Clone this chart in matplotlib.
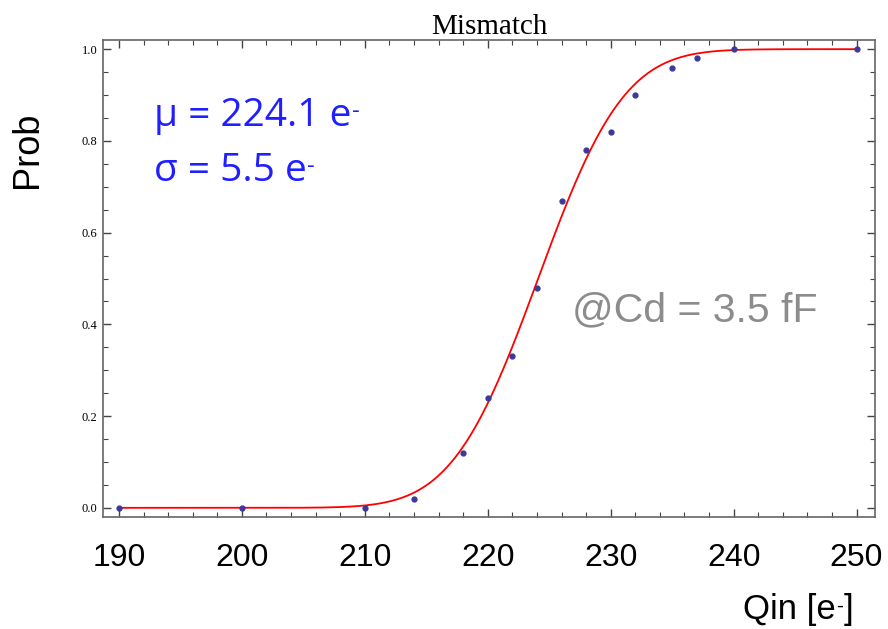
import math
import numpy as np
import matplotlib.pyplot as plt
from matplotlib.ticker import MultipleLocator

# measured points
qin = [190, 200, 210, 214, 218, 220, 222, 224, 226, 228, 230, 232, 235, 237, 240, 250]
prob = [0.0, 0.0, 0.0, 0.02, 0.12, 0.24, 0.33, 0.48, 0.67, 0.78, 0.82, 0.90, 0.96, 0.98, 1.0, 1.0]

# fit result (shown on the chart)
mu = 224.1
sigma = 5.5

x_ticks = [190, 200, 210, 220, 230, 240, 250]
y_ticks = [0.0, 0.2, 0.4, 0.6, 0.8, 1.0]

fig = plt.figure(figsize=(8.88, 6.29), dpi=100)
ax = fig.add_axes([103 / 888, 1 - 517 / 629, 772 / 888, 477 / 629])

xs = np.linspace(190, 250, 400)
fit = [0.5 * (1 + math.erf((v - mu) / (math.sqrt(2) * sigma))) for v in xs]
ax.plot(xs, fit, color='red', lw=1.3, zorder=2)
ax.plot(qin, prob, 'o', color='#3a3a9c', markersize=3.5, zorder=3)

ax.set_xlim(188.7, 251.5)
ax.set_ylim(-0.02, 1.02)

ax.xaxis.set_minor_locator(MultipleLocator(2))
ax.yaxis.set_minor_locator(MultipleLocator(0.05))
ax.set_xticks(x_ticks)
ax.set_xticklabels([str(t) for t in x_ticks], fontsize=23, family='Liberation Sans')
ax.set_yticks(y_ticks)
ax.set_yticklabels(['%.1f' % t for t in y_ticks], fontsize=9, family='Liberation Serif')

ax.tick_params(which='both', direction='in', top=True, right=True, colors='#444444')
ax.tick_params(which='major', length=6, width=1)
ax.tick_params(which='minor', length=3.5, width=0.8)
ax.tick_params(axis='x', which='major', pad=19, labelcolor='black')
ax.tick_params(axis='y', which='major', pad=4, labelcolor='black')
for s in ax.spines.values():
    s.set_color('#666666')
    s.set_linewidth(1.2)

ax.set_title('Mismatch', fontsize=21, family='Liberation Serif', pad=3)


def sup_minus(txt, size, color, family):
    # short raised dash after a text, like the e- in the original
    return ax.annotate('-', xy=(1, 1), xycoords=txt, xytext=(0.5, -2),
                       textcoords='offset points', ha='left', va='top',
                       fontsize=size, color=color, family=family)


fig.text(28 / 888, 1 - 150 / 629, 'Prob', rotation=90, fontsize=26,
         family='Liberation Sans', ha='center', va='center')
q1 = fig.text(743 / 888, 1 - 610 / 629, 'Qin [e', fontsize=25,
              family='Liberation Sans', ha='left', va='center')
sup_minus(q1, 15, 'black', 'Liberation Sans')
ax.annotate(']', xy=(1, 0.5), xycoords=q1, xytext=(6, 0), textcoords='offset points',
            ha='left', va='center', fontsize=25, family='Liberation Sans')

m = ax.text(0.066, 0.84, '\u03bc = 224.1 e', transform=ax.transAxes,
            fontsize=28, color='#1f1fff', family='Open Sans', va='center')
sup_minus(m, 17, '#1f1fff', 'Open Sans')
s = ax.text(0.066, 0.725, '\u03c3 = 5.5 e', transform=ax.transAxes,
            fontsize=28, color='#1f1fff', family='Open Sans', va='center')
sup_minus(s, 17, '#1f1fff', 'Open Sans')
ax.text(0.607, 0.433, '@Cd = 3.5 fF', transform=ax.transAxes,
        fontsize=29.5, color='#8c8c8c', family='Liberation Sans', va='center')

fig.savefig('out.png', dpi=100)
